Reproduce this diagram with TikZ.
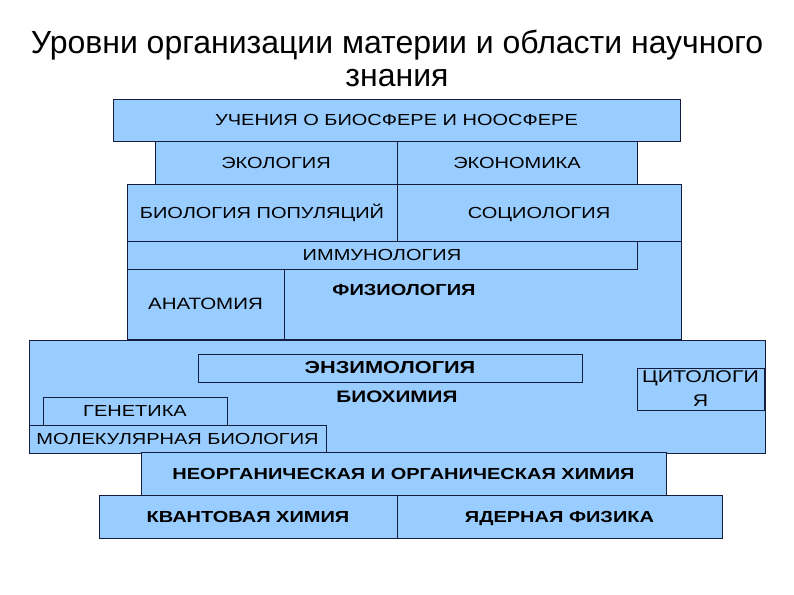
\documentclass[tikz,border=0pt]{standalone}
\usepackage{fontspec}
\setmainfont{Liberation Sans}
\newfontfamily\boxfont[FakeStretch=1.25]{Liberation Sans}
\usetikzlibrary{positioning}

\definecolor{boxblue}{RGB}{153,204,255}
\definecolor{boxline}{RGB}{20,30,60}

\begin{document}
\begin{tikzpicture}[x=0.5pt, y=-0.5pt]
        % Define styles for shapes
        \tikzstyle{block} = [draw=boxline, fill=boxblue, line width=0.5pt, inner sep=0pt, outer sep=0pt, align=center, text height=5.8pt, text depth=0pt, font=\boxfont\fontsize{8}{10}\selectfont]
        \tikzstyle{boldblock} = [block, font=\boxfont\fontsize{8}{10}\selectfont\bfseries]
        \useasboundingbox (0,0) rectangle (794,595);
        % Title
        \node[align=center, font=\fontsize{16}{16.5}\selectfont] (title) at (397,58) {Уровни организации материи и области научного\\знания};
        % Top layers
        \node[block, minimum width=283.5pt, minimum height=21pt] (ucheniya) at (396.5,120) {УЧЕНИЯ О БИОСФЕРЕ И НООСФЕРЕ};
        \node[block, minimum width=121pt, minimum height=21.5pt] (ekologiya) at (276,162.5) {ЭКОЛОГИЯ};
        \node[block, minimum width=120pt, minimum height=21.5pt] (ekonomika) at (517,162.5) {ЭКОНОМИКА};
        \node[block, minimum width=135pt, minimum height=28.5pt] (populyacii) at (262,212.5) {БИОЛОГИЯ ПОПУЛЯЦИЙ};
        \node[block, minimum width=142pt, minimum height=28.5pt] (sociologiya) at (539,212.5) {СОЦИОЛОГИЯ};
        % Organism level
        \node[boldblock, minimum width=277pt, minimum height=49pt] (fiziologiya) at (404,290) {ФИЗИОЛОГИЯ};
        \node[block, minimum width=255pt, minimum height=14pt] (immunologiya) at (382,255) {ИММУНОЛОГИЯ};
        \node[block, minimum width=78.5pt, minimum height=35pt, font=\boxfont\fontsize{8.2}{10}\selectfont] (anatomiya) at (205.5,304) {АНАТОМИЯ};
        % Cell level
        \node[boldblock, minimum width=368pt, minimum height=56.5pt, font=\boxfont\fontsize{8.3}{10}\selectfont\bfseries] (biokhimiya) at (397,396.5) {БИОХИМИЯ};
        \node[boldblock, minimum width=192pt, minimum height=14pt, font=\boxfont\fontsize{8.7}{10}\selectfont\bfseries] (enzimologiya) at (390,368) {ЭНЗИМОЛОГИЯ};
        \node[block, minimum width=92pt, minimum height=14pt] (genetika) at (135,411) {ГЕНЕТИКА};
        \node[block, minimum width=148.5pt, minimum height=14pt] (molbiologiya) at (177.5,439) {МОЛЕКУЛЯРНАЯ БИОЛОГИЯ};
        \node[block, minimum width=63.5pt, minimum height=21pt, text height=, text depth=, font=\boxfont\fontsize{8.5}{12}\selectfont] (citologiya) at (700.5,389) {ЦИТОЛОГИ\\Я};
        % Chemistry and physics
        \node[boldblock, minimum width=262.5pt, minimum height=21.5pt] (khimiya) at (403.5,473.5) {НЕОРГАНИЧЕСКАЯ И ОРГАНИЧЕСКАЯ ХИМИЯ};
        \node[boldblock, minimum width=149pt, minimum height=21.5pt] (kvantovaya) at (248,516.5) {КВАНТОВАЯ ХИМИЯ};
        \node[boldblock, minimum width=162.5pt, minimum height=21.5pt] (yadernaya) at (559.5,516.5) {ЯДЕРНАЯ ФИЗИКА};
    \end{tikzpicture}
\end{document}
